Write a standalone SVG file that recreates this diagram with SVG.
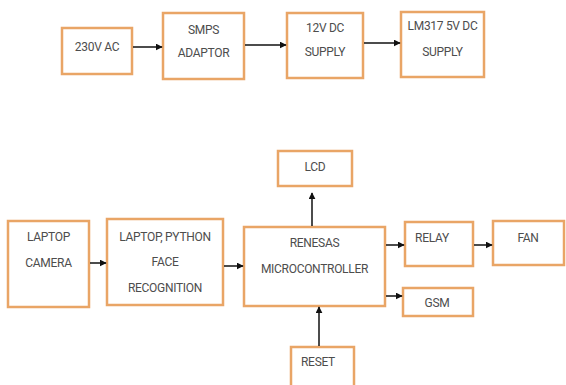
<svg xmlns="http://www.w3.org/2000/svg" width="566" height="385" viewBox="0 0 566 385">
<defs>
<marker id="ah" viewBox="0 0 10 10" refX="9" refY="5" markerWidth="7" markerHeight="7" markerUnits="userSpaceOnUse" orient="auto">
<path d="M0,0 L10,5 L0,10 z" fill="#111"/>
</marker>
<style>
.box{fill:#fff;stroke:#E9A566;stroke-width:2.5}
text{font-family:Roboto,"Liberation Sans",sans-serif;font-size:12px;letter-spacing:-0.3px;fill:#4d4d4d;text-anchor:middle;dominant-baseline:central}
.c{stroke:#111;stroke-width:1.5;fill:none;marker-end:url(#ah)}
</style>
</defs>
<rect width="566" height="385" fill="#fff"/>
<g id="ac"><rect class="box" x="62" y="28" width="70" height="46"/><text x="97" y="47">230V AC</text></g>
<g id="smps"><rect class="box" x="163" y="13" width="81" height="66"/><text x="203.5" y="30">SMPS</text><text x="203.5" y="53">ADAPTOR</text></g>
<g id="dc12"><rect class="box" x="287" y="13" width="76" height="65"/><text x="325" y="28">12V DC</text><text x="325" y="52">SUPPLY</text></g>
<g id="lm317"><rect class="box" x="401" y="12" width="83" height="65"/><text x="442.5" y="26">LM317 5V DC</text><text x="442.5" y="52">SUPPLY</text></g>
<g id="camera"><rect class="box" x="8" y="221" width="81" height="86"/><text x="48.5" y="237">LAPTOP</text><text x="48.5" y="263">CAMERA</text></g>
<g id="face"><rect class="box" x="107" y="219" width="116" height="86"/><text x="165" y="237">LAPTOP, PYTHON</text><text x="165" y="262">FACE</text><text x="165" y="288">RECOGNITION</text></g>
<g id="mcu"><rect class="box" x="244" y="227" width="141" height="79"/><text x="314.5" y="243">RENESAS</text><text x="314.5" y="269">MICROCONTROLLER</text></g>
<g id="lcd"><rect class="box" x="278" y="151" width="74" height="35"/><text x="315" y="167">LCD</text></g>
<g id="relay"><rect class="box" x="405" y="222" width="68" height="44"/><text x="432" y="238">RELAY</text></g>
<g id="fan"><rect class="box" x="493" y="221" width="71" height="44"/><text x="528" y="238">FAN</text></g>
<g id="gsm"><rect class="box" x="403" y="288" width="70" height="28"/><text x="437" y="303">GSM</text></g>
<g id="reset"><rect class="box" x="291" y="347" width="63" height="42"/><text x="318" y="362">RESET</text></g>
<g id="connectors">
<line class="c" x1="133" y1="47" x2="162" y2="47"/>
<line class="c" x1="245" y1="45" x2="286" y2="45"/>
<line class="c" x1="364" y1="43" x2="400" y2="43"/>
<line class="c" x1="90" y1="263" x2="106" y2="263"/>
<line class="c" x1="224" y1="266" x2="243" y2="266"/>
<line class="c" x1="312" y1="226" x2="312" y2="193"/>
<line class="c" x1="386" y1="245" x2="404" y2="245"/>
<line class="c" x1="474" y1="245" x2="492" y2="245"/>
<line class="c" x1="386" y1="296" x2="402" y2="296"/>
<line class="c" x1="319" y1="346" x2="319" y2="307"/>
</g>
</svg>
